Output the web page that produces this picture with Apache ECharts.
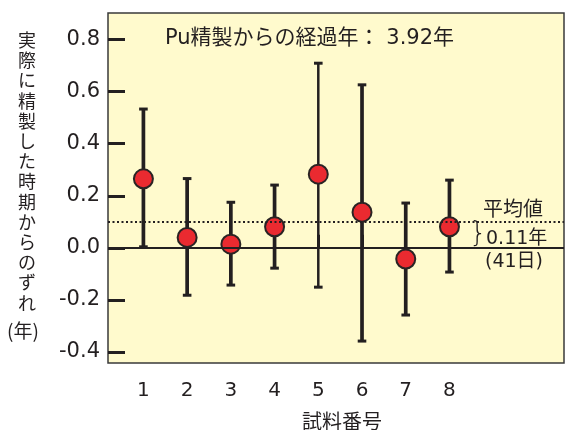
<!DOCTYPE html>
<html>
<head>
<meta charset="utf-8">
<script src="https://cdn.jsdelivr.net/npm/echarts@6/dist/echarts.min.js"></script>
<style>
  html, body { margin: 0; padding: 0; background: #fff; }
  #chart { width: 565px; height: 430px; }
</style>
</head>
<body>
<div id="chart"></div>
<script>
  // 試料番号と精製時期からのずれ（年）
  var samples = [1, 2, 3, 4, 5, 6, 7, 8];
  var values = [0.265, 0.040, 0.014, 0.081, 0.283, 0.137, -0.043, 0.081];
  var upper = [0.533, 0.266, 0.175, 0.241, 0.709, 0.626, 0.172, 0.260];
  var lower = [0.004, -0.182, -0.143, -0.078, -0.151, -0.358, -0.258, -0.093];
  var yTicks = [-0.4, -0.2, 0.0, 0.2, 0.4, 0.6, 0.8];
  var avgLine = 0.096;

  var font = "'DejaVu Sans', 'Noto Sans CJK JP', sans-serif";
  var cjk = "'Noto Sans CJK JP', sans-serif";
  var ink = '#231f20';

  var chart = echarts.init(document.getElementById('chart'));

  var option = {
    animation: false,
    grid: {
      show: true,
      left: 108,
      right: 1,
      top: 13,
      bottom: 67,
      containLabel: false,
      outerBoundsMode: 'none',
      backgroundColor: '#fffacd',
      borderColor: '#3a3a3a',
      borderWidth: 1.5
    },
    xAxis: {
      type: 'value',
      min: 0.19,
      max: 10.62,
      name: '試料番号',
      nameLocation: 'middle',
      nameGap: 48,
      nameTextStyle: { fontSize: 20, color: ink, fontFamily: cjk, padding: [0, 0, 0, 12] },
      axisLine: { show: false },
      splitLine: { show: false },
      axisTick: {
        show: true,
        inside: true,
        length: 13,
        customValues: samples,
        lineStyle: { color: ink, width: 3 }
      },
      axisLabel: {
        customValues: samples,
        margin: 18,
        fontSize: 20,
        color: ink,
        fontFamily: font
      }
    },
    yAxis: {
      type: 'value',
      min: -0.4422,
      max: 0.9018,
      axisLine: { show: false },
      splitLine: { show: false },
      axisTick: {
        show: true,
        inside: true,
        length: 17,
        customValues: yTicks,
        lineStyle: { color: ink, width: 3 }
      },
      axisLabel: {
        customValues: yTicks,
        margin: 8,
        fontSize: 21,
        color: ink,
        fontFamily: font,
        formatter: function (v) { return v.toFixed(1); }
      }
    },
    graphic: [
      {
        type: 'text', left: 18, top: 30,
        style: {
          text: '実\n際\nに\n精\n製\nし\nた\n時\n期\nか\nら\nの\nず\nれ',
          fontSize: 18, lineHeight: 20.2, fill: ink, fontFamily: cjk, align: 'left'
        }
      },
      {
        type: 'text', left: 7, top: 321,
        style: { text: '(年)', fontSize: 19, fill: ink, fontFamily: cjk }
      },
      {
        type: 'text', left: 165, top: 28,
        style: { text: 'Pu精製からの経過年： 3.92年', fontSize: 21, fill: ink, fontFamily: font }
      },
      {
        type: 'text', left: 483, top: 198,
        style: { text: '平均値', fontSize: 20, fill: ink, fontFamily: cjk }
      },
      {
        type: 'text', left: 486, top: 230,
        style: { text: '0.11年', fontSize: 19, fill: ink, fontFamily: font }
      },
      {
        type: 'text', left: 485, top: 253,
        style: { text: '(41日)', fontSize: 19, fill: ink, fontFamily: font }
      },
      {
        type: 'text', left: 469, top: 221,
        style: { text: '}', fontSize: 28, fill: ink, fontFamily: "'DejaVu Sans', sans-serif", fontWeight: 'lighter' }
      }
    ],
    series: [
      {
        type: 'line',
        data: [],
        markLine: {
          silent: true,
          symbol: 'none',
          label: { show: false },
          data: [
            { yAxis: 0, lineStyle: { type: 'solid', color: ink, width: 2 } },
            { yAxis: avgLine, lineStyle: { type: [2, 2.5], color: ink, width: 2 } }
          ]
        }
      },
      {
        type: 'custom',
        data: samples.map(function (s, i) { return [s, lower[i], upper[i]]; }),
        renderItem: function (params, api) {
          var x = api.value(0);
          var lo = api.coord([x, api.value(1)]);
          var hi = api.coord([x, api.value(2)]);
          var w = params.dataIndex === 4 ? 2.5 : 3.7;
          var cap = 4.3;
          var style = { stroke: ink, lineWidth: w };
          return {
            type: 'group',
            children: [
              { type: 'line', shape: { x1: hi[0], y1: hi[1], x2: lo[0], y2: lo[1] }, style: style },
              { type: 'line', shape: { x1: hi[0] - cap, y1: hi[1], x2: hi[0] + cap, y2: hi[1] }, style: { stroke: ink, lineWidth: 3 } },
              { type: 'line', shape: { x1: lo[0] - cap, y1: lo[1], x2: lo[0] + cap, y2: lo[1] }, style: { stroke: ink, lineWidth: 3 } }
            ]
          };
        },
        z: 3
      },
      {
        type: 'scatter',
        data: samples.map(function (s, i) { return [s, values[i]]; }),
        symbol: 'circle',
        symbolSize: 19,
        itemStyle: { color: '#ea2a30', borderColor: '#2a2424', borderWidth: 2, opacity: 1 },
        z: 4
      }
    ]
  };

  chart.setOption(option);
</script>
</body>
</html>
